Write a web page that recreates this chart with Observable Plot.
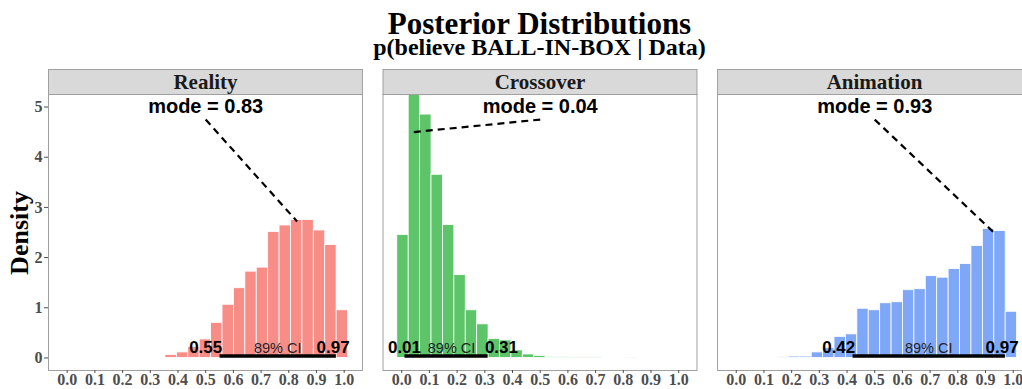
<!DOCTYPE html>
<html>
<head>
<meta charset="utf-8">
<script src="https://cdn.jsdelivr.net/npm/d3@7"></script>
<script src="https://cdn.jsdelivr.net/npm/@observablehq/plot@0.6"></script>
<style>
  html, body { margin: 0; padding: 0; background: #fff; overflow: hidden; }
  #wrap { position: relative; width: 1022px; height: 389px; overflow: hidden; background: #fff; }
  .ttl { position: absolute; left: 0; width: 1079px; text-align: center; font-family: "Liberation Serif", "Times New Roman", serif; font-weight: bold; color: #000; white-space: nowrap; }
  #title { top: 11px; font-size: 31px; line-height: 26px; }
  #subtitle { top: 36.5px; font-size: 24px; line-height: 20px; }
  #ylab { position: absolute; left: 19.5px; top: 233px; transform: translate(-50%, -50%) rotate(-90deg); font-family: "Liberation Serif", serif; font-weight: bold; font-size: 26px; line-height: 26px; white-space: nowrap; color: #000; }
  #chart { position: absolute; left: 0; top: 69px; width: 1032px; }
  #chart svg { max-width: none !important; }
</style>
</head>
<body>
<div id="wrap">
  <div class="ttl" id="title">Posterior Distributions</div>
  <div class="ttl" id="subtitle">p(believe BALL-IN-BOX | Data)</div>
  <div id="ylab">Density</div>
  <div id="chart"></div>
</div>
<script>
// ---- data ----
const panels = ["Reality", "Crossover", "Animation"];
const panelColors = ["#F88D88", "#5EC469", "#7FA7F8"];

// histogram bins (25 equal bins)
const binStart = -0.016;
const binWidth = 0.0412;

const realityDensity = [0, 0, 0, 0, 0, 0, 0, 0, 0,
  0.06, 0.11, 0.22, 0.37, 0.70, 1.06, 1.39, 1.72, 1.80, 2.51, 2.64, 2.75, 2.75, 2.54, 2.25, 0.95];
const crossoverDensity = [2.45, 5.6, 4.85, 3.65, 2.65, 1.65, 0.95, 0.67, 0.38, 0.35,
  0.15, 0.07, 0.04, 0.02, 0.015, 0.01, 0.01, 0.01, 0, 0, 0.008, 0, 0, 0, 0];
const animationDensity = [0, 0, 0, 0, 0.013, 0.027, 0.027, 0.11, 0.2, 0.42,
  0.47, 0.98, 0.95, 1.09, 1.11, 1.35, 1.37, 1.63, 1.60, 1.77, 1.87, 2.23, 2.57, 2.53, 0.92];

const modes = [0.83, 0.04, 0.93];
const modeDensity = [2.72, 4.5, 2.5];
const ciLower = [0.55, 0.01, 0.42];
const ciUpper = [0.97, 0.31, 0.97];
const ciLabel = "89% CI";

const xTicks = [0, 0.1, 0.2, 0.3, 0.4, 0.5, 0.6, 0.7, 0.8, 0.9, 1.0];
const yTicks = [0, 1, 2, 3, 4, 5];

// annotation anchors (data units)
const modeLabelX = 0.5, modeLabelY = 5, modeLineStartY = 4.75, ciLabelY = 0.2;

// ---- build tables ----
const densities = [realityDensity, crossoverDensity, animationDensity];
const bars = [];
panels.forEach((p, i) => densities[i].forEach((d, k) => {
  if (d > 0) bars.push({panel: p, x1: binStart + k * binWidth, x2: binStart + (k + 1) * binWidth, density: d});
}));
const annot = panels.map((p, i) => {
  const lowX = Math.max(ciLower[i] - 0.05, 0.01);
  const highX = Math.min(ciUpper[i] + 0.05, 0.96);
  const midX = Math.max((ciLower[i] + ciUpper[i]) / 2, lowX + 0.17);
  return {panel: p, mode: modes[i], modeDensity: modeDensity[i], lower: ciLower[i], upper: ciUpper[i], lowX, highX, midX};
});

const sans = "Liberation Sans, Arial, sans-serif";
const serif = "Liberation Serif, Times New Roman, serif";

const chart = Plot.plot({
  width: 1032,
  height: 320,
  marginLeft: 48,
  marginRight: 1,
  marginTop: 25,
  marginBottom: 19,
  style: {background: "transparent", overflow: "visible", maxWidth: "none"},
  x: {domain: [-0.0675, 1.066]},
  y: {domain: [-0.25, 5.25]},
  fx: {domain: panels, paddingInner: 0.0615, paddingOuter: 0, round: false, axis: null, label: null},
  color: {domain: panels, range: panelColors},
  marks: [
    // strip backgrounds
    Plot.frame({fill: "#d9d9d9", stroke: "#a0a0a0", strokeWidth: 1, insetTop: -25, insetBottom: 276}),
    Plot.text(panels, {fx: d => d, text: d => d, frameAnchor: "top", dy: -12.5, lineAnchor: "middle",
      fontSize: 21, fontWeight: "bold", fontFamily: serif, fill: "#1a1a1a"}),
    // histogram bars
    Plot.rectY(bars, {fx: "panel", x1: "x1", x2: "x2", y: "density", fill: "panel",
      stroke: "white", strokeWidth: 0.8, clip: true}),
    // panel border
    Plot.frame({stroke: "#a0a0a0", strokeWidth: 1}),
    // mode annotation
    Plot.link(annot, {fx: "panel", x1: () => modeLabelX, y1: () => modeLineStartY, x2: "mode", y2: "modeDensity",
      stroke: "black", strokeWidth: 2.2, strokeDasharray: "7,5"}),
    Plot.text(annot, {fx: "panel", x: () => modeLabelX, y: () => modeLabelY, text: d => `mode = ${d.mode.toFixed(2)}`,
      fontSize: 20, fontWeight: "bold", fontFamily: sans, fill: "black"}),
    // credible interval
    Plot.link(annot, {fx: "panel", x1: "lower", x2: "upper", y1: () => 0, y2: () => 0, dy: -2,
      stroke: "black", strokeWidth: 3.5}),
    Plot.text(annot, {fx: "panel", x: "lowX", y: () => ciLabelY, text: d => d.lower.toFixed(2),
      fontSize: 17, fontWeight: "bold", fontFamily: sans, fill: "black"}),
    Plot.text(annot, {fx: "panel", x: "highX", y: () => ciLabelY, text: d => d.upper.toFixed(2),
      fontSize: 17, fontWeight: "bold", fontFamily: sans, fill: "black"}),
    Plot.text(annot, {fx: "panel", x: "midX", y: () => ciLabelY, text: () => ciLabel,
      fontSize: 14.5, fontFamily: sans, fill: "#222"}),
    // axes
    Plot.axisX({ticks: xTicks, tickFormat: d3.format(".1f"), tickSize: 3, tickPadding: 0.5, label: null,
      fontSize: 16, fontWeight: "bold", fontFamily: serif, color: "#4d4d4d"}),
    Plot.axisY({ticks: yTicks, tickFormat: d3.format("d"), tickSize: 4, tickPadding: 2, label: null,
      fontSize: 16, fontWeight: "bold", fontFamily: serif, color: "#4d4d4d"})
  ]
});
document.getElementById("chart").appendChild(chart);
</script>
</body>
</html>
